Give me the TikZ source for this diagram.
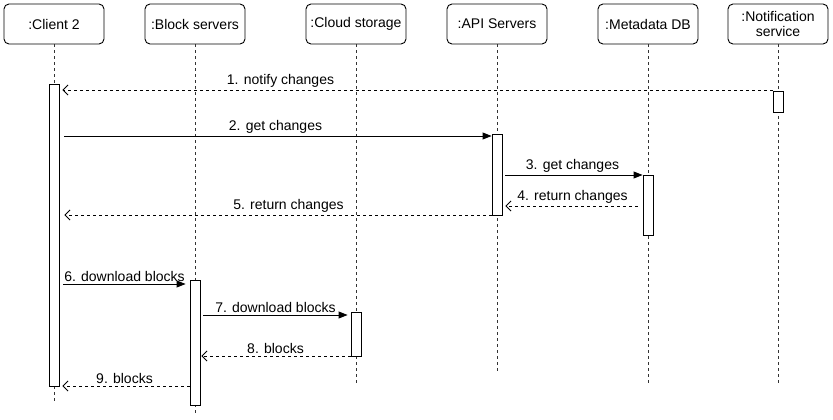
\documentclass[tikz,border=0pt]{standalone}
\usepackage{fontspec}
\setmainfont{Liberation Sans}
\usetikzlibrary{arrows.meta,calc}
\begin{document}
\begin{tikzpicture}[x=1pt,y=-1pt,
 font=\fontsize{14}{15.5}\selectfont,
 head/.style={draw, rounded corners=5pt, minimum width=100pt, minimum height=40pt, align=center, inner sep=0pt, line width=0.9pt},
 life/.style={dash pattern=on 3pt off 3pt, line width=0.8pt, black!80},
 act/.style={draw, fill=white, minimum width=10pt, anchor=north, inner sep=0pt, line width=0.9pt},
 call/.style={-{Triangle[length=9pt,width=7pt]}, line width=0.9pt},
 ret/.style={-{Straight Barb[length=5pt,width=10pt]}, dash pattern=on 3pt off 3pt, line width=0.8pt},
 lbl/.style={above, inner sep=2pt}]
\useasboundingbox (0,0) rectangle (833,420);
% headers
\node[head] (c2) at (54,24) {:Client 2};
\node[head] (bs) at (195,24) {:Block servers};
\node[head] (cs) at (356,24) {:Cloud storage};
\node[head] (api) at (497,24) {:API Servers};
\node[head] (md) at (648,24) {:Metadata DB};
\node[head] (ns) at (778,24) {:Notification\\service};
% lifelines
\draw[life] (c2.south) -- (c2.south |- 0,403);
\draw[life] (bs.south) -- (bs.south |- 0,415);
\draw[life] (cs.south) -- (cs.south |- 0,384);
\draw[life] (api.south) -- (api.south |- 0,372);
\draw[life] (md.south) -- (md.south |- 0,384);
\draw[life] (ns.south) -- (ns.south |- 0,384);
% activations
\node[act, minimum height=302pt] (ac2) at (54,84) {};
\node[act, minimum height=21pt] (ans) at (778,91) {};
\node[act, minimum height=81pt] (aapi) at (497,134) {};
\node[act, minimum height=60pt] (amd) at (648,175) {};
\node[act, minimum height=125pt] (abs) at (195,280) {};
\node[act, minimum height=44pt] (acs) at (356,312) {};
% messages
\draw[ret, shorten >=3pt] (ans.west |- 0,90) -- node[lbl, pos=0.69] {1. notify changes} (ac2.east |- 0,90);
\draw[call, shorten <=5pt] (ac2.east |- 0,136) -- node[lbl] {2. get changes} (aapi.west |- 0,136);
\draw[call, shorten <=3pt] (aapi.east |- 0,175) -- node[lbl] {3. get changes} (amd.west |- 0,175);
\draw[ret, shorten <=5pt, shorten >=3pt] (amd.west |- 0,206) -- node[lbl] {4. return changes} (aapi.east |- 0,206);
\draw[ret, shorten >=5pt] (aapi.west |- 0,215) -- node[lbl, pos=0.47] {5. return changes} (ac2.east |- 0,215);
\draw[call, shorten <=4pt, shorten >=4pt] (ac2.east |- 0,284) -- node[lbl] {6. download blocks} (abs.west |- 0,284);
\draw[call, shorten <=3pt, shorten >=3pt] (abs.east |- 0,315) -- node[lbl] {7. download blocks} (acs.west |- 0,315);
\draw[ret, shorten >=1pt] (acs.west |- 0,356) -- node[lbl] {8. blocks} (abs.east |- 0,356);
\draw[ret, shorten >=3pt] (abs.west |- 0,386) -- node[lbl] {9. blocks} (ac2.east |- 0,386);
\end{tikzpicture}
\end{document}
